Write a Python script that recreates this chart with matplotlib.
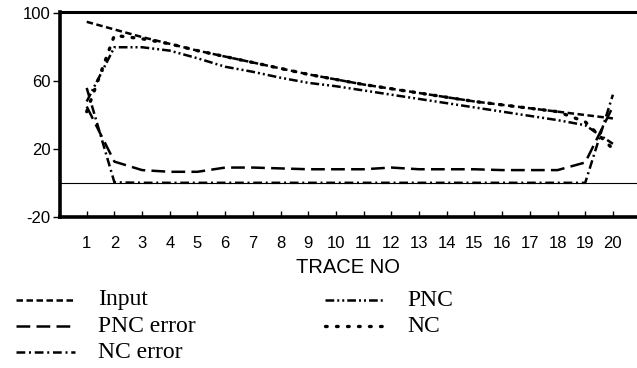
import numpy as np
import matplotlib.pyplot as plt
from matplotlib.lines import Line2D

plt.rcParams['axes.unicode_minus'] = False

trace = list(range(1, 21))

inp = [95, 90.5, 86, 82, 78, 74.5, 71, 67.5, 64, 61, 58, 55.5, 53, 50.5, 48, 46, 44, 42, 40, 38]
pnc_err = [45, 12.5, 7.5, 6.5, 6.5, 9, 9, 8.5, 8, 8, 8, 9, 8, 8, 8, 7.5, 7.5, 7.5, 12, 45]
nc_err = [56, 0.3, 0, 0, 0, 0, 0, 0, 0, 0, 0, 0, 0, 0, 0, 0, 0, 0, 0, 52]
pnc = [48, 80, 80, 78, 73.5, 68.5, 65.5, 62, 59, 57, 54.5, 52, 49.5, 47, 44.5, 42, 39.5, 37, 34, 23]
nc = [42, 87, 85, 82, 78, 74.5, 71, 67.5, 64, 61, 58, 55.5, 53, 50.5, 48, 46, 44, 42, 36, 20]

W, H = 637, 368
fig = plt.figure(figsize=(W / 100, H / 100), dpi=100)
ax = fig.add_axes([60 / W, 151.3 / H, 577 / W, 204.7 / H])

styles = {
    'Input': dict(lw=1.8, dashes=(2.6, 1.4)),
    'PNC error': dict(lw=1.8, dashes=(5.5, 2.5)),
    'NC error': dict(lw=1.8, dashes=(3.5, 1.5, 0.8, 1.5)),
    'PNC': dict(lw=1.8, dashes=(3.5, 1.2, 0.8, 1.2, 0.8, 1.2)),
    'NC': dict(lw=2.4, dashes=(0.5, 2.8), dash_capstyle='round'),
}
series = {'Input': inp, 'PNC error': pnc_err, 'NC error': nc_err, 'PNC': pnc, 'NC': nc}

for name, vals in series.items():
    ax.plot(trace, vals, color='black', **styles[name])
ax.axhline(0, color='black', lw=0.8)

ax.set_xlim(0.036, 20.87)
ax.set_ylim(-20, 100.8)
ax.set_xticks(trace)
ax.set_yticks([-20, 20, 60, 100])

for s in ['left', 'bottom']:
    ax.spines[s].set_linewidth(2.6)
ax.spines['top'].set_linewidth(2.2)
ax.spines['right'].set_visible(False)

font = 'Liberation Sans'
ax.tick_params(axis='x', direction='in', length=4, width=1, pad=14, labelsize=12)
ax.tick_params(axis='y', direction='out', length=5, width=1, pad=2, labelsize=12)
for t in ax.get_xticklabels() + ax.get_yticklabels():
    t.set_fontfamily(font)
ax.set_xlabel('TRACE NO', fontsize=14.5, family=font, labelpad=5)

# legend drawn by hand below the axes, two columns
legend_pos = {
    'Input': (16, 300), 'PNC error': (16, 326), 'NC error': (16, 352),
    'PNC': (325, 300), 'NC': (325, 326),
}
for name, (x0, y0) in legend_pos.items():
    fy = 1 - y0 / H
    fig.add_artist(Line2D([x0 / W, (x0 + 59) / W], [fy, fy], color='black',
                          transform=fig.transFigure, **styles[name]))
    fig.text((x0 + 82) / W, fy, name, family='Liberation Serif', fontsize=17,
             va='center', ha='left')

fig.savefig('out.png', dpi=100)
